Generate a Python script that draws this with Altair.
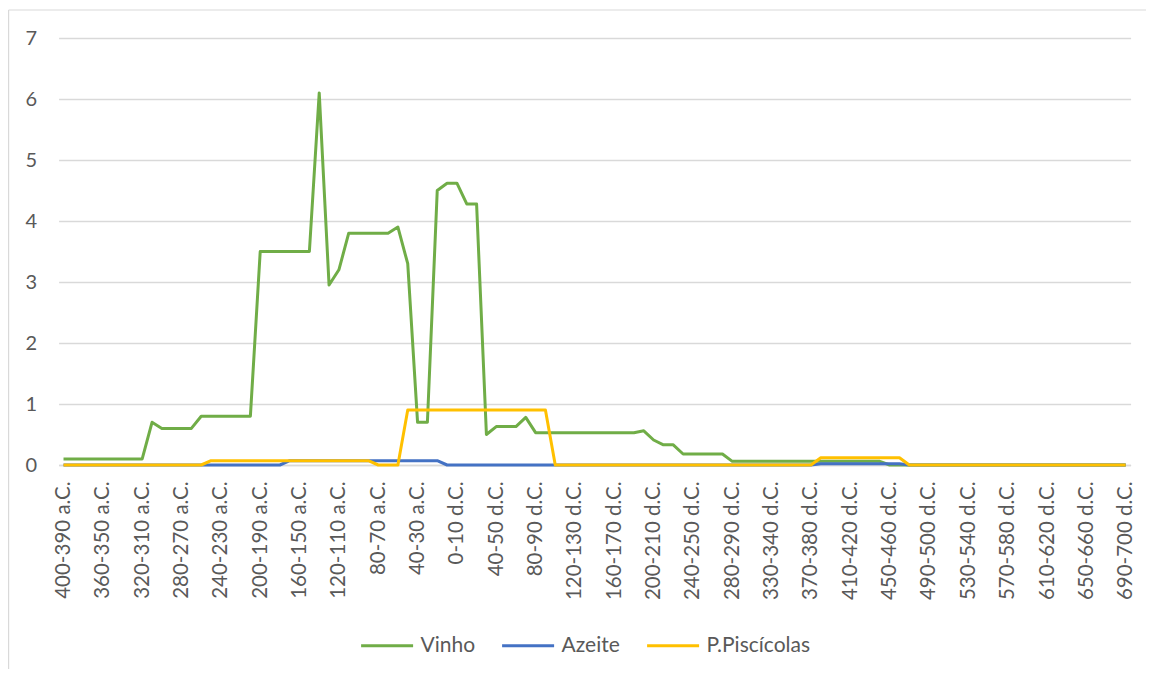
import altair as alt
import pandas as pd

# --- categories (10-year intervals) ---
bc = [f"{s}-{s-10} a.C." for s in range(400, 0, -10)]
ad_starts = [s for s in range(0, 700, 10) if s != 300]
ad = [f"{s}-{s+10} d.C." for s in ad_starts]
categories = bc + ad

series = ["Vinho", "Azeite", "P.Piscícolas"]
colors = ["#70AD47", "#4472C4", "#FFC000"]

vinho = ([0.1] * 9 + [0.7] + [0.6] * 4 + [0.8] * 6 + [3.5] * 6 + [6.1, 2.95, 3.2]
         + [3.8] * 5 + [3.9, 3.3, 0.7, 0.7, 4.5, 4.62, 4.62, 4.28, 4.28, 0.5]
         + [0.63] * 3 + [0.78] + [0.53] * 11 + [0.56, 0.41, 0.33, 0.33]
         + [0.18] * 5 + [0.06] * 16 + [0] * 25)
azeite = [0] * 23 + [0.07] * 16 + [0] * 38 + [0.02] * 9 + [0] * 23
pisc = [0] * 15 + [0.07] * 17 + [0] * 3 + [0.9] * 15 + [0] * 27 + [0.12] * 9 + [0] * 23

tick_labels = categories[::4]

rows = []
for name, vals in zip(series, [vinho, azeite, pisc]):
    for i, (c, v) in enumerate(zip(categories, vals)):
        rows.append({"periodo": c, "valor": v, "serie": name, "idx": i})
df = pd.DataFrame(rows)

FONT = "Lato"
GREY = "#595959"
GRID = "#D9D9D9"

x_enc = alt.X("periodo:N", sort=categories,
              scale=alt.Scale(type="point", padding=0.5),
              axis=alt.Axis(values=tick_labels, labelAngle=-90, labelPadding=16,
                            ticks=False, domainColor=GRID, domainWidth=1.3,
                            labelFontSize=20.5, labelColor=GREY, labelFont=FONT,
                            title=None, grid=False, labelOverlap=False))
y_enc = alt.Y("valor:Q", scale=alt.Scale(domain=[0, 7], nice=False),
              axis=alt.Axis(values=list(range(8)), tickCount=8, ticks=False, domain=False,
                            gridColor=GRID, gridWidth=1.3, labelPadding=22,
                            labelFontSize=20, labelColor=GREY, labelFont=FONT,
                            title=None))
color_enc = alt.Color("serie:N", scale=alt.Scale(domain=series, range=colors),
                      legend=alt.Legend(title=None, orient="none", direction="horizontal",
                                        legendX=301, legendY=580,
                                        symbolType="stroke", symbolSize=2704,
                                        symbolStrokeWidth=3, labelFontSize=21,
                                        labelColor=GREY, labelFont=FONT,
                                        labelOffset=6, columnPadding=20))

layers = []
for name in series:
    layers.append(
        alt.Chart(df).transform_filter(alt.datum.serie == name)
        .mark_line(strokeWidth=3, strokeJoin="round")
        .encode(x=x_enc, y=y_enc, color=color_enc)
    )

border_df = pd.DataFrame({"a": [0]})
top_border = alt.Chart(border_df).mark_rule(color=GRID, strokeWidth=1.2).encode(
    x=alt.value(-50), x2=alt.value(1100), y=alt.value(-28))
left_border = alt.Chart(border_df).mark_rule(color=GRID, strokeWidth=1.2).encode(
    x=alt.value(-50), y=alt.value(-28), y2=alt.value(640))

chart = alt.layer(*layers, top_border, left_border).properties(
    width=1072, height=427,
    autosize=alt.AutoSizeParams(type="none"),
    padding={"left": 50.6, "top": 30, "right": 15.4, "bottom": 204},
    background="white",
).configure_view(stroke=None)

chart.save("out.html", embed_options={"renderer": "svg", "actions": False})
